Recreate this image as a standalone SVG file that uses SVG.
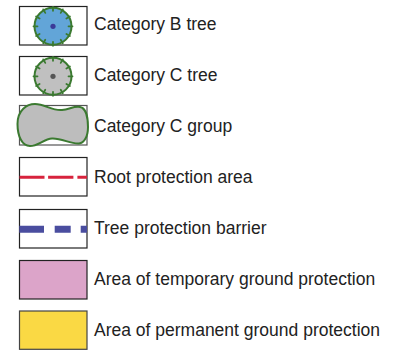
<svg xmlns="http://www.w3.org/2000/svg" xmlns:xlink="http://www.w3.org/1999/xlink" width="406" height="350" viewBox="0 0 406 350">
<style>
.box{fill:#ffffff;stroke:#222;stroke-width:1.2}
.lbl{font-family:"Liberation Sans",Arial,sans-serif;font-size:17.5px;fill:#222}
.crown{stroke:#3b7a30;stroke-width:2}
.tick{fill:none;stroke:#3b7a30;stroke-width:1.8;stroke-linecap:round}
</style>
<defs>
<path id="ticks" class="tick" d="M0 -19.5L0 -15.5M9.75 -16.9L7.75 -13.42M16.9 -9.75L13.42 -7.75M19.5 0L15.5 0M16.9 9.75L13.42 7.75M9.75 16.9L7.75 13.42M0 19.5L0 15.5M-9.75 16.9L-7.75 13.42M-16.9 9.75L-13.42 7.75M-19.5 0L-15.5 0M-16.9 -9.75L-13.42 -7.75M-9.75 -16.9L-7.75 -13.42"/>
</defs>
<rect width="406" height="350" fill="#ffffff"/>
<g id="cat-b-tree">
<rect class="box" x="19.5" y="6.5" width="67.5" height="38.5"/>
<circle class="crown" cx="53" cy="26.3" r="18.5" fill="#62a5d8"/>
<use xlink:href="#ticks" href="#ticks" transform="translate(53 26.3)"/>
<circle cx="53" cy="26.3" r="2.6" fill="#3b3a98"/>
<text class="lbl" x="94" y="29.5">Category B tree</text>
</g>
<g id="cat-c-tree">
<rect class="box" x="19.5" y="56.5" width="67.5" height="38.5"/>
<circle class="crown" cx="53" cy="76.3" r="18.5" fill="#c0c0c0"/>
<use xlink:href="#ticks" href="#ticks" transform="translate(53 76.3)"/>
<circle cx="53" cy="76.3" r="2.6" fill="#555555"/>
<text class="lbl" x="94" y="80.5">Category C tree</text>
</g>
<g id="cat-c-group">
<rect class="box" x="19.5" y="105.5" width="67.5" height="39.5" style="stroke:#555"/>
<path class="crown" fill="#bdbdbd" d="M17.5 124C17.5 110 27 104 35 104C45 104 52 111 62 110C70 109 74 106 80 107C86 108 88 118 88 127C88 137 84 143 79 143.5C70 144 62 138 52 138.5C44 139 38 146 30 146C22 146 17.5 136 17.5 124Z"/>
<text class="lbl" x="94" y="131.5">Category C group</text>
</g>
<g id="root-protection-area">
<rect class="box" x="19.5" y="157.5" width="67.5" height="38.5"/>
<line x1="19.5" y1="177.3" x2="87" y2="177.3" stroke="#d7233d" stroke-width="3" stroke-dasharray="25 3.6 25.3 4"/>
<text class="lbl" x="94" y="182.5">Root protection area</text>
</g>
<g id="tree-protection-barrier">
<rect class="box" x="19.5" y="209.5" width="67.5" height="38.5"/>
<line x1="19.3" y1="229.3" x2="87" y2="229.3" stroke="#4a4d9f" stroke-width="7" stroke-dasharray="24.7 10.7 16 10"/>
<text class="lbl" x="94" y="233.5">Tree protection barrier</text>
</g>
<g id="temporary-ground-protection">
<rect class="box" x="19.5" y="260.5" width="67.5" height="38.5" style="fill:#dca4c9"/>
<text class="lbl" x="94" y="284.5">Area of temporary ground protection</text>
</g>
<g id="permanent-ground-protection">
<rect class="box" x="19.5" y="311" width="67.5" height="38.3" style="fill:#fad944;stroke:#444"/>
<text class="lbl" x="94" y="335.5">Area of permanent ground protection</text>
</g>
</svg>
